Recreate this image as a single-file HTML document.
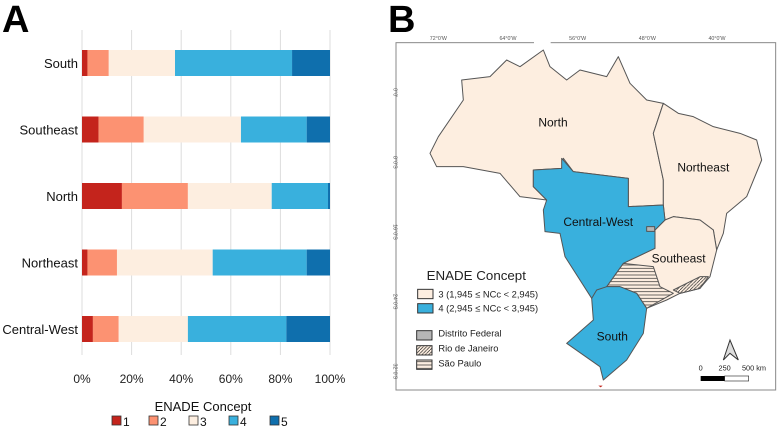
<!DOCTYPE html>
<html><head><meta charset="utf-8">
<style>
html,body{margin:0;padding:0;background:#fff;}
svg{display:block;font-family:"Liberation Sans",sans-serif;}
</style></head>
<body>
<svg id="fig" width="777" height="430" viewBox="0 0 777 430">
  <defs>
    <pattern id="hx" width="6" height="6" patternUnits="userSpaceOnUse"><rect width="6" height="6" fill="#fff"/><path d="M0,0L6,6M6,0L0,6" stroke="#222" stroke-width="1"/></pattern>
    <pattern id="hd" width="10" height="10" patternUnits="userSpaceOnUse"><rect width="10" height="10" fill="#fdeee0"/><path d="M0,10L10,0" stroke="#222" stroke-width="2"/></pattern>
    <pattern id="hh" width="10" height="10" patternUnits="userSpaceOnUse"><rect width="10" height="10" fill="#fdeee0"/><path d="M0,5L10,5" stroke="#222" stroke-width="2"/></pattern>
  </defs>
  <text x="2" y="32" font-size="38" font-weight="bold">A</text>
  <g id="chart"></g>
  <text x="388" y="32" font-size="38" font-weight="bold">B</text>
  <g transform="translate(380,0) scale(0.33333)">
    <rect x="48" y="128" width="1139" height="1042" fill="#fff" stroke="#888" stroke-width="3"/>
    <rect x="462" y="120" width="50" height="14" fill="#fff"/>
    <g font-size="16" fill="#555">
      <text x="175" y="120" text-anchor="middle">72°0'W</text>
      <text x="384" y="120" text-anchor="middle">64°0'W</text>
      <text x="593" y="120" text-anchor="middle">56°0'W</text>
      <text x="802" y="120" text-anchor="middle">48°0'W</text>
      <text x="1011" y="120" text-anchor="middle">40°0'W</text>
      <text transform="translate(40,278) rotate(90)" text-anchor="middle">0°0'</text>
      <text transform="translate(40,487) rotate(90)" text-anchor="middle">8°0'S</text>
      <text transform="translate(40,696) rotate(90)" text-anchor="middle">16°0'S</text>
      <text transform="translate(40,905) rotate(90)" text-anchor="middle">24°0'S</text>
      <text transform="translate(40,1114) rotate(90)" text-anchor="middle">32°0'S</text>
    </g>
    <g stroke="#555" stroke-width="3" fill="#fdeee0" stroke-linejoin="round">
      <path d="M150,460 L175,410 L250,300 L245,240 L330,230 L380,180 L420,200 L490,150 L510,200 L560,240 L600,210 L680,230 L715,170 L750,250 L800,300 L850,310 L820,400 L850,540 L850,615 L745,620 L745,535 L580,515 L550,475 L545,505 L460,510 L460,560 L500,600 L420,590 L360,520 L250,500 L170,500 Z"/>
      <path d="M850,310 L895,340 L940,350 L1000,380 L1080,400 L1130,420 L1145,480 L1100,590 L1040,640 L1030,700 L1010,750 L1000,690 L960,660 L880,650 L855,660 L850,615 L850,540 L820,400 Z"/>
      <path d="M855,660 L880,650 L960,660 L1000,690 L1010,750 L990,830 L960,865 L900,880 L860,900 L800,925 L770,880 L720,860 L680,860 L730,790 L825,745 L825,690 Z"/>
      <path fill="url(#hh)" d="M680,860 L730,790 L820,800 L840,860 L880,880 L800,925 L770,880 L720,860 Z"/>
      <path fill="url(#hd)" d="M880,870 L960,830 L985,830 L960,865 L900,880 Z"/>
      <path fill="#39b0dd" d="M545,475 L580,515 L745,535 L745,620 L850,615 L855,660 L825,690 L825,745 L730,790 L680,860 L650,890 L635,895 L555,770 L540,700 L495,695 L490,630 L500,600 L460,560 L460,510 L545,505 Z"/>
      <path fill="#39b0dd" d="M680,860 L720,860 L770,880 L800,925 L790,1000 L740,1080 L670,1140 L660,1100 L560,1030 L640,960 L635,895 L650,870 Z"/>
      <rect x="800" y="680" width="24" height="14" fill="url(#hx)"/>
    </g>
    <g font-size="36" fill="#111">
      <text x="475" y="380">North</text>
      <text x="892" y="515">Northeast</text>
      <text x="550" y="678">Central-West</text>
      <text x="815" y="788">Southeast</text>
      <text x="650" y="1022">South</text>
    </g>
    <g font-size="28" fill="#222">
      <text x="140" y="840" font-size="40">ENADE Concept</text>
      <rect x="113" y="868" width="46" height="28" fill="#fdeee0" stroke="#333" stroke-width="3"/>
      <text x="175" y="892">3 (1,945 ≤ NCc &lt; 2,945)</text>
      <rect x="113" y="911" width="46" height="28" fill="#39b0dd" stroke="#333" stroke-width="3"/>
      <text x="175" y="935">4 (2,945 ≤ NCc &lt; 3,945)</text>
      <rect x="110" y="992" width="46" height="28" fill="url(#hx)" stroke="#333" stroke-width="3"/>
      <text x="175" y="1010">Distrito Federal</text>
      <rect x="110" y="1037" width="46" height="28" fill="url(#hd)" stroke="#333" stroke-width="3"/>
      <text x="175" y="1055">Rio de Janeiro</text>
      <rect x="110" y="1080" width="46" height="28" fill="url(#hh)" stroke="#333" stroke-width="3"/>
      <text x="175" y="1100">São Paulo</text>
    </g>
    <g>
      <path d="M1050,1020 L1030,1080 L1050,1060 L1075,1080 Z" fill="#ddd" stroke="#333" stroke-width="3"/>
    </g>
    <g font-size="22" fill="#222">
      <text x="962" y="1112" text-anchor="middle">0</text>
      <text x="1034" y="1112" text-anchor="middle">250</text>
      <text x="1122" y="1112" text-anchor="middle">500 km</text>
      <rect x="962" y="1128" width="72" height="15" fill="#000"/>
      <rect x="1034" y="1128" width="72" height="15" fill="#fff" stroke="#333" stroke-width="2"/>
    </g>
    <path d="M655,1157 L668,1157 L662,1162 Z" fill="#c0241c"/>
  </g>
</svg>
<script>
const categories = ["South","Southeast","North","Northeast","Central-West"];
const concept1 = [2.2, 6.7, 16.1, 2.2, 4.4];
const concept2 = [8.6, 18.2, 26.6, 11.9, 10.4];
const concept3 = [26.7, 39.2, 33.8, 38.6, 27.9];
const concept4 = [47.2, 26.5, 22.7, 37.9, 39.7];
const concept5 = [15.3, 9.4, 0.8, 9.4, 17.6];
const tickValues = [0, 20, 40, 60, 80, 100];
const tickLabels = ["0%","20%","40%","60%","80%","100%"];
const legendLabels = ["1","2","3","4","5"];

const NS = "http://www.w3.org/2000/svg";
const g = document.getElementById("chart");
const colors = ["#c4241c","#fc9272","#fdeee0","#39b0dd","#0f6fad"];
const series = [concept1, concept2, concept3, concept4, concept5];
const x0 = 82, x1 = 330, yTop = 30, yBot = 355, step = 66.5, barH = 26, firstY = 50;
const xs = v => x0 + (v / 100) * (x1 - x0);
const yb = i => firstY + i * step;
function mk(tag, attrs){ const e = document.createElementNS(NS, tag); for (const k in attrs) e.setAttribute(k, attrs[k]); g.appendChild(e); return e; }

tickValues.forEach((t, i) => {
  const l = mk("line", {x1: xs(t), x2: xs(t), y1: yTop, y2: yBot, stroke: "#ddd", "stroke-width": 1});
  
  
  const tx = mk("text", {x: xs(t), y: 383, "text-anchor": "middle", "font-size": 12, fill: "#222"});
  tx.textContent = tickLabels[i];
  
  
});

categories.forEach((c, i) => {
  const lbl = mk("text", {x: 78, y: yb(i) + barH/2 + 5, "text-anchor": "end", "font-size": 13, fill: "#111"});
  lbl.textContent = c;
  
  
  let cum = 0;
  series.forEach((s, k) => {
    const v = s[i];
    const r = mk("rect", {x: xs(cum), y: yb(i), width: xs(cum + v) - xs(cum), height: barH, fill: colors[k]});
    
    
    cum += v;
  });
});

const lt = mk("text", {x: 203, y: 411, "text-anchor": "middle", "font-size": 13, fill: "#111"});
lt.textContent = "ENADE Concept";


const legX = [112, 149, 189, 229, 270];
legendLabels.forEach((l, k) => {
  const r = mk("rect", {x: legX[k], y: 416, width: 9, height: 9, fill: colors[k], stroke: "#333", "stroke-width": 0.8});
  
  
  const t = mk("text", {x: legX[k] + 11, y: 426, "font-size": 12, fill: "#111"});
  t.textContent = l;
  
  
});
</script>
</body></html>
